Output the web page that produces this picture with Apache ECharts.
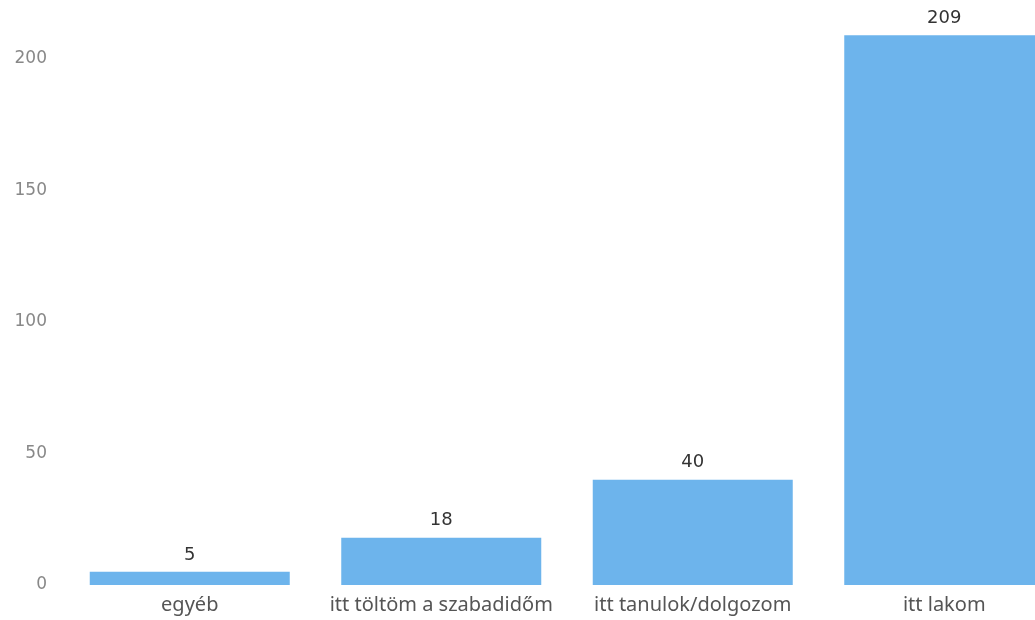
<!DOCTYPE html>
<html><head><meta charset="utf-8">
<script src="https://cdn.jsdelivr.net/npm/echarts@6/dist/echarts.min.js"></script>
<style>html,body{margin:0;padding:0;background:#fff;overflow:hidden;width:1035px;height:620px}#c{width:1070px;height:620px}</style>
</head><body><div id="c"></div>
<script>
const categories = ["egyéb", "itt töltöm a szabadidőm", "itt tanulok/dolgozom", "itt lakom"];
const values = [5, 18, 40, 209];
const yTicks = [0, 50, 100, 150, 200];

const chart = echarts.init(document.getElementById('c'), null, {renderer: 'canvas'});
chart.setOption({
  animation: false,
  grid: {left: 64, right: 0, top: 6.4, bottom: 35, containLabel: false},
  xAxis: {
    type: 'category', data: categories,
    axisLine: {show: false}, axisTick: {show: false},
    axisLabel: {color: '#555', fontFamily: 'Noto Sans', fontSize: 20, margin: 10, interval: 0}
  },
  yAxis: {
    type: 'value', min: 0, max: 220, interval: 50,
    splitLine: {show: false}, axisLine: {show: false}, axisTick: {show: false},
    axisLabel: {color: '#888', fontFamily: 'DejaVu Sans', fontSize: 17, margin: 17,
      padding: [5, 0, 0, 0],
      showMaxLabel: false,
      formatter: v => yTicks.includes(v) ? String(v) : ''}
  },
  series: [{
    type: 'bar', data: values, barWidth: 200,
    itemStyle: {color: '#6db4ec'},
    label: {show: true, position: 'top', distance: 8, color: '#333', fontFamily: 'DejaVu Sans', fontSize: 18}
  }]
});
</script></body></html>
